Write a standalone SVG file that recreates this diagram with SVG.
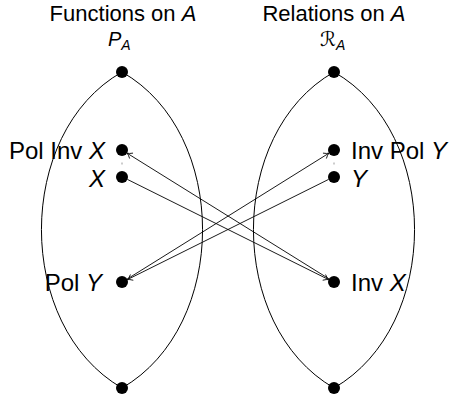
<svg xmlns="http://www.w3.org/2000/svg" width="451" height="394" viewBox="0 0 451 394">
<defs>
<style>
text{font-family:"Liberation Sans",Arial,sans-serif;font-size:24px;fill:#000}
.title{font-size:22px}
.math{font-size:20px}
.it{font-style:italic}
.sub{font-size:14px;font-style:italic}
.lens{fill:none;stroke:#000;stroke-width:1}
.arr{fill:none;stroke:#000;stroke-width:0.9;marker-end:url(#ah)}
.dot{fill:#000}
</style>
<marker id="ah" viewBox="-6 -4 7 8" markerWidth="7" markerHeight="8" refX="0" refY="0" orient="auto" markerUnits="userSpaceOnUse">
<path d="M-5,-3.2 Q-2,-0.6 0,0 Q-2,0.6 -5,3.2" fill="none" stroke="#000" stroke-width="0.8"/>
</marker>
</defs>
<rect width="451" height="394" fill="#fff"/>
<g id="titles">
<text class="title" x="123" y="21" text-anchor="middle">Functions on <tspan class="it">A</tspan></text>
<text class="title" x="334" y="21" text-anchor="middle">Relations on <tspan class="it">A</tspan></text>
</g>
<g id="lenses">
<path class="lens" d="M122,72 C14.6,133 14.6,326 122,388"/>
<path class="lens" d="M122,72 C229.4,133 229.4,326 122,388"/>
<path class="lens" d="M334,72 C226.6,133 226.6,326 334,388"/>
<path class="lens" d="M334,72 C441.4,133 441.4,326 334,388"/>
</g>
<g id="connectors">
<path class="arr" d="M127.4,179.4 L328.6,279.6"/>
<path class="arr" d="M328.9,278.8 L127.1,153.2"/>
<path class="arr" d="M328.6,179.4 L127.4,279.6"/>
<path class="arr" d="M127.1,279.1 L328.9,153.2"/>
<line x1="122" y1="162.5" x2="122" y2="164.5" stroke="#999" stroke-width="1"/>
<line x1="334" y1="162.5" x2="334" y2="164.5" stroke="#999" stroke-width="1"/>
</g>
<g id="PA">
<circle class="dot" cx="122" cy="72" r="6"/>
<text class="math it" x="108" y="46">P<tspan class="sub" dy="4">A</tspan></text>
</g>
<g id="RA">
<circle class="dot" cx="334" cy="72" r="6"/>
<text class="math" x="320" y="46" style="font-family:'DejaVu Sans',sans-serif">ℛ<tspan class="sub" dy="4" style="font-family:'Liberation Sans',sans-serif">A</tspan></text>
</g>
<g id="PolInvX">
<circle class="dot" cx="122" cy="150" r="6"/>
<text x="105" y="159" text-anchor="end">Pol Inv <tspan class="it">X</tspan></text>
</g>
<g id="X">
<circle class="dot" cx="122" cy="177" r="6"/>
<text x="105" y="187" text-anchor="end" class="it">X</text>
</g>
<g id="PolY">
<circle class="dot" cx="122" cy="282" r="6"/>
<text x="102" y="291" text-anchor="end">Pol <tspan class="it">Y</tspan></text>
</g>
<g id="bottomL">
<circle class="dot" cx="122" cy="388" r="6"/>
</g>
<g id="InvPolY">
<circle class="dot" cx="334" cy="150" r="6"/>
<text x="351" y="159">Inv Pol <tspan class="it">Y</tspan></text>
</g>
<g id="Y">
<circle class="dot" cx="334" cy="177" r="6"/>
<text x="351" y="187" class="it">Y</text>
</g>
<g id="InvX">
<circle class="dot" cx="334" cy="282" r="6"/>
<text x="351" y="291">Inv <tspan class="it">X</tspan></text>
</g>
<g id="bottomR">
<circle class="dot" cx="334" cy="388" r="6"/>
</g>
</svg>
